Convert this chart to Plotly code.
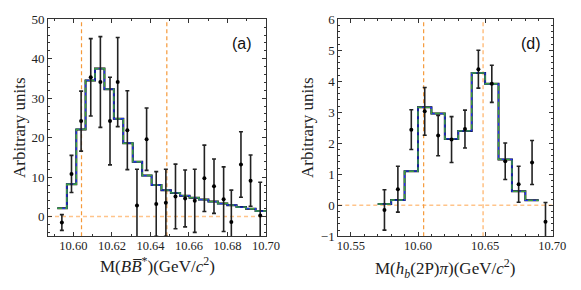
import plotly.graph_objects as go

# ---------------- data: panel (a) ----------------
a_x = [10.594, 10.599, 10.604, 10.609, 10.614, 10.619, 10.623, 10.628, 10.633, 10.638, 10.643,
       10.648, 10.653, 10.658, 10.663, 10.668, 10.673, 10.678, 10.682, 10.687, 10.692, 10.697]
a_y = [-1.5, 10.8, 24.2, 35.3, 34.1, 24.2, 34.1, 21.9, 2.8, 19.6, 3.2,
       3.5, 5.1, 4.6, 4.0, 9.7, 7.7, 4.4, -1.4, 13.2, 9.1, 0.3]
a_err = [2.0, 4.7, 7.6, 9.8, 11.5, 11.1, 11.3, 10.0, 9.2, 7.9, 8.2,
         8.5, 8.2, 7.2, 8.0, 8.4, 6.9, 8.2, 8.1, 8.3, 6.5, 8.4]
a_fit_edges = [10.5916, 10.5966, 10.6015, 10.6063, 10.6112, 10.6161, 10.6210, 10.6259, 10.6308,
               10.6357, 10.6406, 10.6457, 10.6506, 10.6554, 10.6603, 10.6652, 10.6701, 10.6750,
               10.6799, 10.6847, 10.6896, 10.6946, 10.7000]
a_fit = [2.1, 8.2, 22.1, 34.5, 37.5, 32.3, 24.8, 18.6, 13.9, 10.4, 8.0,
         6.7, 6.0, 5.3, 4.8, 4.3, 3.8, 3.3, 2.9, 2.4, 2.0, 1.4]

# ---------------- data: panel (d) ----------------
d_x = [10.575, 10.585, 10.595, 10.605, 10.615, 10.625, 10.635, 10.645, 10.655, 10.665, 10.675, 10.685, 10.695]
d_y = [-0.15, 0.52, 2.44, 3.03, 2.25, 2.12, 2.46, 4.39, 3.92, 1.42, 0.68, 1.38, -0.53]
d_err = [0.65, 0.74, 0.64, 0.77, 0.65, 0.74, 0.61, 0.61, 0.60, 0.59, 0.58, 0.71, 0.62]
d_fit_edges = [10.57, 10.58, 10.59, 10.60, 10.61, 10.62, 10.63, 10.64, 10.65, 10.66, 10.67, 10.68, 10.69]
d_fit = [0.04, 0.17, 1.10, 3.16, 2.96, 2.14, 2.40, 4.27, 3.92, 1.48, 0.45, 0.16]

thresholds = [10.6042, 10.6485]

fig = go.Figure()

def add_panel(xax, yax, px, py, perr, edges, fit):
    xs = edges
    ys = fit + [fit[-1]]
    fig.add_trace(go.Scatter(x=xs, y=ys, mode="lines", line=dict(shape="hv", color="black", width=2.0),
                             xaxis=xax, yaxis=yax, showlegend=False, hoverinfo="skip"))
    fig.add_trace(go.Scatter(x=xs, y=ys, mode="lines", line=dict(shape="hv", color="#2233ee", width=1.3),
                             xaxis=xax, yaxis=yax, showlegend=False, hoverinfo="skip"))
    fig.add_trace(go.Scatter(x=xs, y=ys, mode="lines", line=dict(shape="hv", color="#3ca03c", width=1.4, dash="5px,3px"),
                             xaxis=xax, yaxis=yax, showlegend=False, hoverinfo="skip"))
    fig.add_trace(go.Scatter(x=px, y=py, mode="markers", marker=dict(color="black", size=4),
                             error_y=dict(type="data", array=perr, visible=True, color="#222222", thickness=1.6, width=2),
                             xaxis=xax, yaxis=yax, showlegend=False))

add_panel("x", "y", a_x, a_y, a_err, a_fit_edges, a_fit)
add_panel("x2", "y2", d_x, d_y, d_err, d_fit_edges, d_fit)

# reference lines
for xr, yr in (("x", "y"), ("x2", "y2")):
    fig.add_shape(type="line", xref=xr + " domain", yref=yr, x0=0, x1=1, y0=0, y1=0,
                  line=dict(color="#FFC48A", width=1.6, dash="4px,3px"), layer="below")
    fig.add_shape(type="line", xref=xr, yref=yr + " domain", x0=thresholds[0], x1=thresholds[0], y0=0, y1=1,
                  line=dict(color="#F5993A", width=1.2, dash="4px,3px"), layer="below")
    fig.add_shape(type="line", xref=xr, yref=yr + " domain", x0=thresholds[1], x1=thresholds[1], y0=0, y1=1,
                  line=dict(color="#F5993A" if xr == "x" else "#FFC48A", width=1.2 if xr == "x" else 1.6,
                            dash="4px,3px"), layer="below")

serif = "Liberation Serif"
tickfont = dict(family=serif, size=13, color="#222")
xtickfont = dict(family=serif, size=12.5, color="#222")
common = dict(showgrid=False, zeroline=False, showline=True, linecolor="#333", linewidth=1,
              mirror="allticks", ticks="inside", ticklen=4, tickcolor="#333", automargin=False)

y0, y1 = 1 - 236.3 / 290, 1 - 19.3 / 290
fig.update_layout(
    width=581, height=290, margin=dict(l=0, r=0, t=0, b=0, autoexpand=False),
    paper_bgcolor="white", plot_bgcolor="white",
    xaxis=dict(domain=[48 / 581, 266 / 581], range=[10.5868, 10.7000], tick0=10.60, dtick=0.02,
               tickformat=".2f", anchor="y", tickfont=xtickfont, ticklabelstandoff=-2,
               minor=dict(ticks="inside", ticklen=2, dtick=0.01, tickcolor="#333"), **common),
    yaxis=dict(domain=[y0, y1], range=[-5, 50], tick0=0, dtick=10, anchor="x", tickfont=tickfont,
               minor=dict(ticks="inside", ticklen=2, dtick=2, tickcolor="#333"), **common),
    xaxis2=dict(domain=[338.3 / 581, 553 / 581], range=[10.5406, 10.7006], tick0=10.55, dtick=0.05,
                tickformat=".2f", anchor="y2", tickfont=xtickfont, ticklabelstandoff=-2,
                minor=dict(ticks="inside", ticklen=2, dtick=0.01, tickcolor="#333"), **common),
    yaxis2=dict(domain=[y0, y1], range=[-1, 6], tick0=0, dtick=1, anchor="x2", tickfont=tickfont,
                minor=dict(ticks="inside", ticklen=2, dtick=0.2, tickcolor="#333"), **common),
)

tfont = dict(family=serif, size=17, color="#222")
ann = [
    dict(text="Arbitrary units", x=19 / 581, y=1 - 128 / 290, textangle=-90, font=tfont, yanchor="middle"),
    dict(text="Arbitrary units", x=307 / 581, y=1 - 128 / 290, textangle=-90, font=tfont, yanchor="middle"),
    dict(text="M(<i>B</i><i>B̅</i><sup>*</sup>)(GeV/<i>c</i><sup>2</sup>)", x=157 / 581, y=1 - 252 / 290,
         font=tfont, yanchor="top"),
    dict(text="M(<i>h</i><sub><i>b</i></sub>(2P)<i>π</i>)(GeV/<i>c</i><sup>2</sup>)", x=445 / 581, y=1 - 254 / 290,
         font=tfont, yanchor="top"),
    dict(text="(a)", x=242 / 581, y=1 - 44 / 290, font=dict(family="Liberation Sans", size=16, color="#111"), yanchor="middle"),
    dict(text="(d)", x=531 / 581, y=1 - 44 / 290, font=dict(family="Liberation Sans", size=16, color="#111"), yanchor="middle"),
]
for a in ann:
    fig.add_annotation(xref="paper", yref="paper", showarrow=False, xanchor="center", **a)

fig.write_html("out.html", config={"displayModeBar": False},
               post_script="document.body.style.margin='0';document.body.style.overflow='hidden';")
